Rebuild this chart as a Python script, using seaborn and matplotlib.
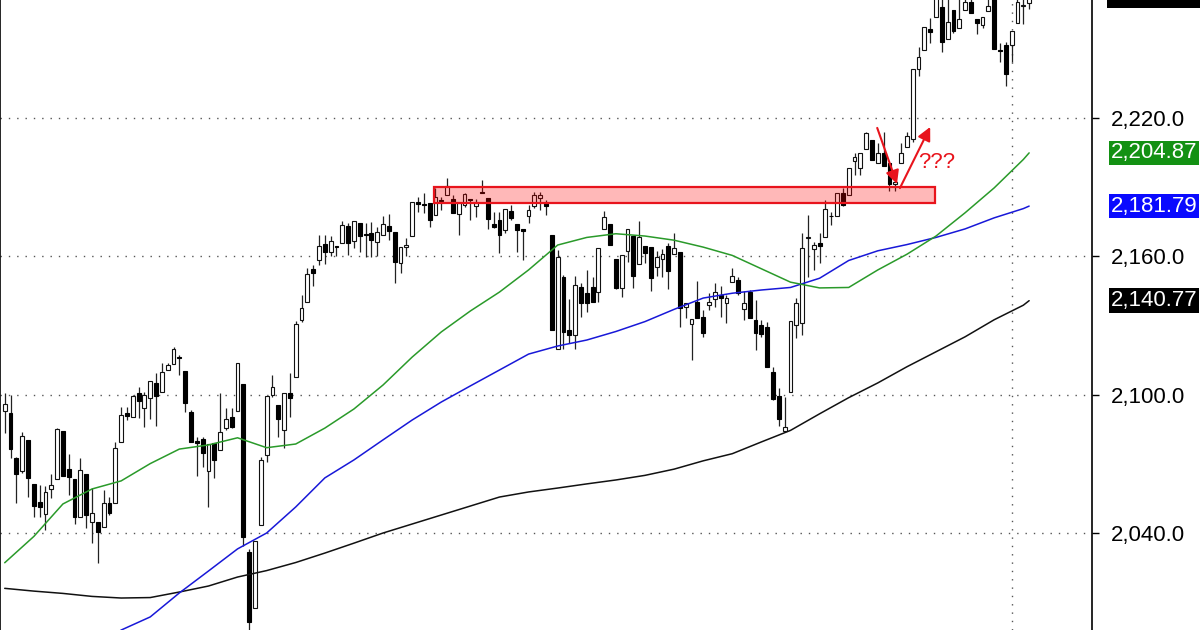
import matplotlib

matplotlib.use("Agg")
import matplotlib.pyplot as plt
import matplotlib.transforms as mtransforms
from matplotlib.patches import Rectangle
import numpy as np
import seaborn as sns

# daily OHLC, one value per session
opens = [
    2092.8, 2092.0, 2072.4, 2067.1, 2080.4, 2061.1, 2053.6, 2048.1, 2059.3, 2063.3,
    2084.3, 2067.6, 2063.3, 2047.1, 2065.7, 2044.9, 2044.9, 2042.7, 2053.1, 2053.1,
    2079.6, 2092.2, 2090.5, 2100.9, 2094.4, 2098.5, 2105.0, 2101.3, 2110.7, 2113.2,
    2116.5, 2110.4, 2092.6, 2080.1, 2080.8, 2066.8, 2079.2, 2076.0, 2085.5, 2090.5,
    2093.0, 2104.5, 2031.9, 2007.4, 2043.5, 2073.9, 2099.9, 2095.5, 2084.7, 2100.9,
    2107.5, 2132.4, 2140.1, 2154.4, 2158.4, 2165.2, 2162.0, 2164.6, 2165.9, 2173.2,
    2166.8, 2174.4, 2169.7, 2170.2, 2166.1, 2169.2, 2173.2, 2170.4, 2157.0, 2163.9,
    2169.0, 2183.4, 2182.6, 2183.0, 2177.9, 2184.2, 2186.6, 2184.7, 2178.2, 2182.3,
    2184.5, 2181.8, 2188.0, 2185.2, 2174.0, 2175.8, 2171.4, 2179.8, 2174.0, 2171.7,
    2177.5, 2181.8, 2185.2, 2183.3, 2169.2, 2120.0, 2150.9, 2128.0, 2125.9, 2146.8,
    2144.2, 2146.6, 2144.7, 2171.7, 2173.9, 2158.7, 2146.1, 2162.3, 2169.0, 2156.7,
    2164.5, 2163.9, 2155.5, 2158.7, 2164.6, 2160.9, 2162.0, 2137.9, 2130.5, 2140.1,
    2133.6, 2138.9, 2141.4, 2143.2, 2139.9, 2148.9, 2149.7, 2137.0, 2144.7, 2132.4,
    2130.2, 2129.5, 2110.0, 2099.4, 2084.3, 2101.3, 2130.2, 2131.2, 2168.0, 2163.1,
    2165.9, 2168.5, 2177.5, 2177.5, 2187.3, 2186.6, 2201.5, 2198.2, 2206.4, 2210.5,
    2200.6, 2205.0, 2200.4, 2191.4, 2200.6, 2207.6, 2210.8, 2241.1, 2249.5, 2258.6,
    2263.7, 2268.3, 2254.1, 2266.8, 2258.9, 2266.8, 2270.5, 2262.9, 2260.3, 2266.5,
    2272.0, 2249.5, 2251.7, 2251.7, 2261.3, 2268.7, 2270.0,
]
highs = [
    2100.6, 2099.9, 2073.1, 2083.9, 2080.4, 2061.1, 2060.8, 2060.4, 2065.8, 2085.4,
    2084.3, 2074.3, 2063.3, 2072.4, 2065.7, 2059.5, 2044.9, 2058.6, 2055.8, 2079.6,
    2094.8, 2094.8, 2099.9, 2103.5, 2101.3, 2106.0, 2109.3, 2113.7, 2113.7, 2120.8,
    2117.2, 2110.4, 2093.4, 2081.8, 2081.8, 2078.6, 2079.2, 2100.6, 2094.1, 2094.4,
    2113.9, 2104.5, 2033.1, 2036.7, 2073.1, 2099.4, 2108.5, 2095.5, 2100.6, 2109.3,
    2131.9, 2143.2, 2154.8, 2156.2, 2169.2, 2169.2, 2168.8, 2164.6, 2175.5, 2174.6,
    2175.4, 2174.4, 2174.6, 2175.1, 2172.9, 2177.5, 2178.4, 2170.4, 2164.2, 2167.8,
    2183.7, 2185.9, 2187.6, 2183.0, 2189.5, 2185.9, 2193.9, 2186.6, 2183.0, 2187.6,
    2184.7, 2184.7, 2193.1, 2185.2, 2179.4, 2179.4, 2180.4, 2182.3, 2174.0, 2171.7,
    2182.3, 2188.0, 2188.0, 2184.4, 2169.2, 2162.8, 2151.9, 2141.5, 2151.5, 2148.3,
    2154.1, 2150.9, 2163.5, 2179.8, 2173.9, 2158.7, 2160.6, 2171.7, 2169.0, 2175.5,
    2164.5, 2163.9, 2162.3, 2163.0, 2165.7, 2170.0, 2162.0, 2139.6, 2132.7, 2149.4,
    2136.7, 2144.0, 2148.3, 2147.1, 2143.2, 2154.8, 2151.2, 2145.1, 2145.4, 2141.1,
    2132.4, 2131.7, 2112.2, 2102.8, 2099.2, 2132.1, 2141.8, 2170.0, 2177.9, 2166.4,
    2170.0, 2184.4, 2179.4, 2187.3, 2189.5, 2198.2, 2204.9, 2204.7, 2214.1, 2210.5,
    2209.0, 2214.1, 2200.4, 2192.4, 2209.0, 2214.1, 2241.3, 2250.9, 2259.6, 2263.3,
    2274.0, 2272.0, 2272.0, 2266.8, 2272.0, 2273.0, 2271.5, 2262.9, 2263.7, 2272.0,
    2273.0, 2252.7, 2253.1, 2257.9, 2273.0, 2273.0, 2274.0,
]
lows = [
    2083.3, 2072.4, 2053.1, 2066.2, 2055.8, 2046.8, 2047.1, 2041.1, 2055.0, 2063.3,
    2064.8, 2056.5, 2043.9, 2047.1, 2042.1, 2035.5, 2027.1, 2042.7, 2047.8, 2053.1,
    2079.6, 2089.0, 2090.5, 2089.7, 2085.9, 2089.3, 2086.2, 2101.3, 2110.7, 2113.2,
    2108.5, 2092.6, 2079.6, 2064.7, 2068.5, 2051.4, 2063.7, 2076.0, 2084.7, 2085.5,
    2093.0, 2034.4, 1997.1, 2007.4, 2043.5, 2070.9, 2099.2, 2081.8, 2076.7, 2090.5,
    2107.5, 2131.7, 2140.1, 2147.1, 2156.2, 2156.5, 2160.1, 2160.1, 2165.9, 2160.6,
    2163.5, 2162.0, 2159.9, 2159.9, 2160.1, 2169.2, 2167.1, 2148.3, 2152.9, 2160.1,
    2169.0, 2179.4, 2178.7, 2172.9, 2177.9, 2180.1, 2186.6, 2178.7, 2169.2, 2181.6,
    2175.8, 2177.2, 2187.3, 2171.7, 2172.2, 2161.3, 2170.0, 2175.8, 2162.0, 2158.4,
    2174.4, 2180.8, 2180.1, 2177.9, 2128.0, 2120.0, 2120.0, 2122.3, 2120.0, 2133.8,
    2136.0, 2140.3, 2140.3, 2171.7, 2164.9, 2145.8, 2142.5, 2157.7, 2146.1, 2156.7,
    2157.3, 2144.9, 2151.5, 2150.9, 2145.7, 2160.9, 2129.5, 2133.1, 2115.0, 2133.1,
    2125.1, 2136.7, 2138.2, 2133.8, 2130.9, 2148.9, 2143.2, 2132.4, 2133.1, 2119.3,
    2125.1, 2112.2, 2097.7, 2086.5, 2084.3, 2101.3, 2124.4, 2125.9, 2151.1, 2154.1,
    2157.0, 2168.5, 2173.6, 2177.5, 2181.8, 2186.6, 2195.3, 2195.3, 2206.4, 2201.8,
    2200.6, 2199.2, 2188.5, 2188.5, 2200.6, 2207.6, 2209.7, 2238.2, 2249.5, 2252.7,
    2263.7, 2248.8, 2254.1, 2256.7, 2258.9, 2266.8, 2265.4, 2256.4, 2258.9, 2266.5,
    2249.8, 2244.4, 2233.9, 2244.4, 2261.3, 2260.8, 2267.3,
]
closes = [
    2096.0, 2076.4, 2065.6, 2082.1, 2064.0, 2051.7, 2051.4, 2058.0, 2060.8, 2085.0,
    2064.8, 2064.4, 2047.1, 2067.4, 2047.8, 2048.6, 2040.6, 2053.1, 2048.5, 2076.7,
    2091.2, 2090.8, 2099.6, 2097.4, 2099.9, 2106.0, 2099.6, 2110.0, 2112.9, 2119.8,
    2115.8, 2096.5, 2079.6, 2079.0, 2074.6, 2078.6, 2071.7, 2083.7, 2089.4, 2085.9,
    2113.9, 2038.2, 2001.5, 2036.7, 2071.7, 2099.4, 2103.5, 2089.3, 2100.6, 2098.5,
    2130.5, 2137.7, 2152.4, 2152.9, 2164.5, 2162.0, 2166.8, 2164.2, 2173.6, 2165.7,
    2175.4, 2168.8, 2169.4, 2167.1, 2170.4, 2173.9, 2171.1, 2157.4, 2164.2, 2164.8,
    2183.4, 2182.6, 2182.4, 2175.8, 2185.9, 2184.0, 2190.5, 2178.7, 2183.0, 2187.0,
    2184.3, 2183.3, 2187.3, 2176.1, 2172.6, 2169.2, 2180.4, 2176.5, 2171.4, 2171.1,
    2180.1, 2186.6, 2186.6, 2181.8, 2128.0, 2159.9, 2127.3, 2125.9, 2147.6, 2139.6,
    2139.6, 2140.3, 2163.5, 2177.2, 2164.9, 2146.1, 2160.6, 2171.7, 2151.5, 2168.5,
    2161.3, 2150.7, 2159.9, 2161.0, 2153.8, 2163.8, 2137.5, 2139.6, 2132.7, 2133.1,
    2126.6, 2140.3, 2144.7, 2141.8, 2141.8, 2151.5, 2144.0, 2139.9, 2133.1, 2126.9,
    2126.3, 2112.2, 2098.0, 2089.3, 2085.9, 2132.1, 2139.9, 2163.5, 2168.2, 2164.9,
    2164.5, 2180.4, 2177.3, 2187.3, 2182.3, 2198.2, 2202.9, 2204.7, 2213.4, 2201.8,
    2204.7, 2199.2, 2191.4, 2192.4, 2205.0, 2212.2, 2241.3, 2246.3, 2259.6, 2257.2,
    2272.5, 2253.1, 2261.8, 2257.9, 2262.8, 2270.5, 2265.4, 2261.1, 2263.7, 2268.6,
    2249.8, 2249.1, 2239.1, 2257.9, 2270.4, 2269.0, 2273.6,
]

# moving averages, sampled every 5 sessions
ma20_idx = [0, 5, 10, 15, 20, 25, 30, 35, 40, 45, 50, 55, 60, 65, 70, 75, 80, 85, 90,
            95, 100, 105, 110, 115, 120, 125, 130, 135, 140, 145, 150, 155, 160, 165,
            170, 175, 176]
ma20 = [2027.1, 2038.5, 2052.6, 2059.1, 2062.6, 2070.1, 2076.4, 2078.2, 2081.3, 2077.0,
        2078.6, 2085.5, 2093.8, 2104.2, 2116.3, 2127.2, 2136.3, 2144.5, 2154.1, 2164.9,
        2168.2, 2169.8, 2168.8, 2167.0, 2164.0, 2160.4, 2154.6, 2148.8, 2146.3, 2146.5,
        2154.1, 2160.9, 2168.8, 2178.9, 2189.7, 2202.0, 2204.87]
ma50_idx = [18, 20, 25, 30, 35, 40, 45, 50, 55, 60, 65, 70, 75, 80, 85, 90, 95, 100,
            105, 110, 115, 120, 125, 130, 135, 140, 145, 150, 155, 160, 165, 170, 175,
            176]
ma50 = [1994.0, 1997.9, 2003.6, 2014.0, 2023.5, 2033.1, 2040.0, 2051.3, 2063.9, 2071.7,
        2080.4, 2089.0, 2096.8, 2103.8, 2110.7, 2117.6, 2121.1, 2123.7, 2127.4, 2131.7,
        2137.0, 2141.9, 2144.0, 2145.4, 2146.5, 2150.5, 2158.2, 2162.4, 2165.1, 2168.2,
        2171.9, 2176.7, 2180.7, 2181.79]
ma200_idx = ma20_idx
ma200 = [2016.0, 2014.8, 2013.8, 2012.5, 2011.8, 2012.0, 2014.4, 2017.0, 2020.9, 2023.7,
         2027.2, 2031.3, 2035.6, 2040.0, 2043.9, 2047.8, 2051.7, 2055.6, 2057.8, 2059.5,
         2061.3, 2063.0, 2065.0, 2067.7, 2071.3, 2074.4, 2079.5, 2084.5, 2091.7, 2098.7,
         2105.1, 2112.1, 2118.6, 2125.1, 2132.5, 2138.8, 2140.77]

y_ticks = [2040, 2100, 2160, 2220]
grid_session = 173

# resistance zone + arrows drawn on the chart
zone_start, zone_end = 73.8, 159.8
zone_low, zone_high = 2183.0, 2189.9
arrow_down = ((149.9, 2215.7), (153.3, 2191.4))
arrow_up = ((153.8, 2189.6), (159.0, 2216.1))
note_pos = (156.9, 2200.9)

RED = "#e8141c"
TAG_X = 1 + 15 / 1092      # left edge of the value tags, axes fraction
TAG_HALF = 5.9             # half tag height in price units


def main() -> None:
    sns.set_theme(style="white")
    plt.rcParams["font.family"] = ["Liberation Sans", "DejaVu Sans"]

    fig = plt.figure(figsize=(12, 6.3), dpi=100)
    ax = fig.add_axes([0, 0, 1092 / 1200, 1])

    o, h, l, c = (np.array(v) for v in (opens, highs, lows, closes))
    idx = np.arange(len(o))
    up = c >= o
    bottom = np.minimum(o, c)
    height = np.maximum(np.abs(c - o), 0.4)

    # grid first, candles on top
    for y in y_ticks:
        ax.axhline(y, color="#555555", lw=1, ls=(0, (1, 5)), zorder=1)
    ax.axvline(grid_session, color="#555555", lw=1, ls=(0, (1, 5)), zorder=1)

    ax.vlines(idx, l, h, color="#222222", lw=0.9, zorder=2)
    ax.bar(idx[up], height[up], bottom=bottom[up], width=0.66, color="white",
           edgecolor="#111111", linewidth=0.8, zorder=3)
    ax.bar(idx[~up], height[~up], bottom=bottom[~up], width=0.66, color="black",
           edgecolor="black", linewidth=0.8, zorder=3)

    sns.lineplot(x=ma200_idx, y=ma200, ax=ax, color="#111111", lw=1.1, zorder=4)
    sns.lineplot(x=ma50_idx, y=ma50, ax=ax, color="#1818d8", lw=1.1, zorder=4)
    sns.lineplot(x=ma20_idx, y=ma20, ax=ax, color="#2a9a2a", lw=1.1, zorder=4)

    ax.add_patch(Rectangle((zone_start, zone_low), zone_end - zone_start,
                           zone_high - zone_low, facecolor=(1, 0, 0, 0.28),
                           edgecolor=RED, lw=1.6, zorder=5))
    for start, tip in (arrow_down, arrow_up):
        ax.annotate("", xy=tip, xytext=start, zorder=6,
                    arrowprops=dict(arrowstyle="-|>", color=RED, lw=1.5,
                                    mutation_scale=20, shrinkA=0, shrinkB=0))
    ax.text(*note_pos, "???", color=RED, fontsize=16, va="center", ha="left",
            zorder=6)

    ax.set_xlim(-0.81, 186.8)
    ax.set_ylim(1997.93, 2271.18)

    # right-hand price axis
    ax.yaxis.tick_right()
    ax.set_yticks(y_ticks)
    ax.set_yticklabels([f"{v:,.1f}" for v in y_ticks])
    ax.tick_params(axis="y", direction="out", length=5, width=1, color="black",
                   labelsize=16, pad=8.5, labelcolor="black")
    ax.set_xticks([])
    for side in ("top", "bottom"):
        ax.spines[side].set_visible(False)
    for side in ("left", "right"):
        ax.spines[side].set_visible(True)
        ax.spines[side].set_color("black")
        ax.spines[side].set_linewidth(1.2)
    ax.grid(False)

    # last-value tags for each moving average
    trans = mtransforms.blended_transform_factory(ax.transAxes, ax.transData)
    tags = [(ma20[-1], "#139113"), (ma50[-1], "#0a0aff"), (ma200[-1], "black")]
    for val, color in tags:
        ax.text(TAG_X + 4 / 1092, val, f"{val:,.2f}", transform=trans, ha="left",
                va="center", color="white", fontsize=16, clip_on=False,
                bbox=dict(boxstyle="square,pad=0.08", fc=color, ec="none"))

    # last price tag sits above the visible range: only its lower edge shows
    ax.add_patch(Rectangle((TAG_X, closes[-1] - TAG_HALF), 0.2, 2 * TAG_HALF,
                           transform=trans, facecolor="black", edgecolor="none",
                           clip_on=False))

    fig.savefig("out.png", dpi=100)
    plt.close(fig)


if __name__ == "__main__":
    main()
